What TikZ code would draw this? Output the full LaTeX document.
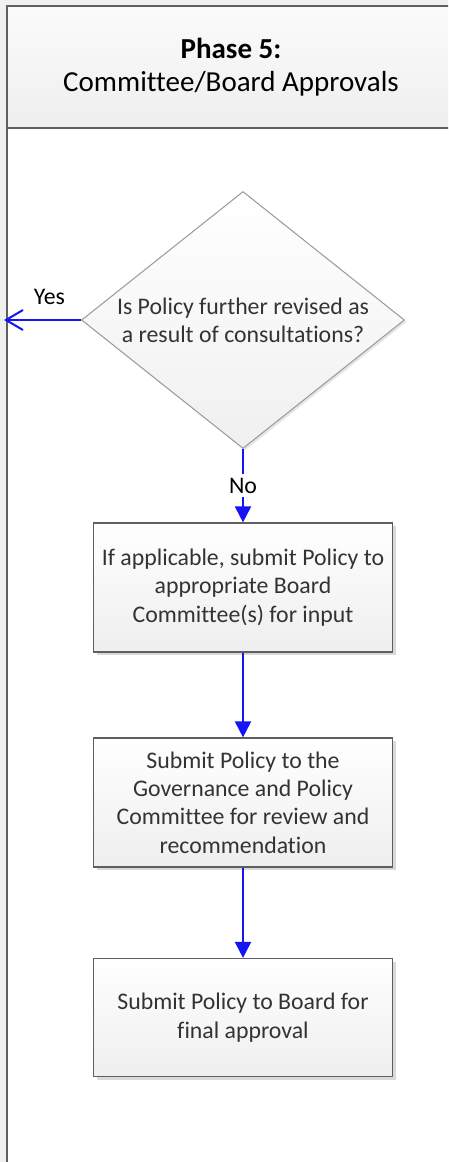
\documentclass[tikz,border=0pt]{standalone}
\usepackage{fontspec}
\setmainfont[Ligatures={NoCommon}]{Carlito}
\usetikzlibrary{shapes,arrows.meta,shadows}
\definecolor{flowblue}{RGB}{20,20,245}
\definecolor{edgegray}{RGB}{95,95,95}
\definecolor{pagegray}{RGB}{240,240,240}
\tikzstyle{line} = [draw, flowblue, line width=2pt, -{Triangle[length=16pt,width=16pt]}]
\tikzstyle{openline} = [draw, flowblue, line width=2pt, -{Straight Barb[length=17pt,width=20pt]}]
\tikzstyle{boxtext} = [font=\fontsize{23.8}{28.3}\selectfont]
\tikzstyle{block} = [draw=edgegray, line width=1.2pt, rectangle, text centered, align=center, boxtext, text=black!80, top color=white, bottom color=gray!13, drop shadow={shadow xshift=3pt, shadow yshift=-3pt, fill=black!15, opacity=1}, minimum width=299pt, minimum height=129pt]
\tikzstyle{decision} = [draw=gray!80, line width=1pt, diamond, aspect=1.257, inner sep=0pt, text centered, align=center, boxtext, text=black!80, top color=white, bottom color=gray!12, drop shadow={shadow xshift=2pt, shadow yshift=-2pt, fill=black!10, opacity=1}, minimum width=323pt, minimum height=257pt]
\tikzstyle{header} = [draw=edgegray, line width=1.5pt, rectangle, align=center, font=\fontsize{29}{33}\selectfont, top color=white!97!gray, bottom color=gray!13, minimum width=448pt, minimum height=122pt]
\tikzstyle{flowlabel} = [boxtext, text=black, inner sep=4pt]

\begin{document}
\begin{tikzpicture}[x=1pt, y=-1pt, node distance=215pt]
        \clip (0,0) rectangle (448,1162);
        \fill[pagegray] (0,0) rectangle (448,1162);
        \fill[white] (7,6) rectangle (460,1170);
        \node[header] (phase) at (231,67) {\textbf{Phase 5:}\\Committee/Board Approvals};
        \draw[edgegray, line width=2.5pt] (7,1170) -- (7,6);
        \node[decision] (revised) at (243,320) {Is Policy further revised as\\a result of consultations?};
        \node[block, below of=revised, node distance=267.5pt] (committee) {If applicable, submit Policy to\\appropriate Board\\Committee(s) for input};
        \node[block, below of=committee] (governance) {Submit Policy to the\\Governance and Policy\\Committee for review and\\recommendation};
        \node[block, below of=governance, minimum height=118pt] (board) {Submit Policy to Board for\\final approval};
        \coordinate (exit) at (4,320);
        \path[openline] (revised.west) -- node[flowlabel, pos=0.41, above=10pt] {Yes} (exit);
        \path[line] (revised) -- node[flowlabel, fill=white] {No} (committee);
        \path[line] (committee) -- (governance);
        \path[line] (governance) -- (board);
    \end{tikzpicture}
\end{document}
